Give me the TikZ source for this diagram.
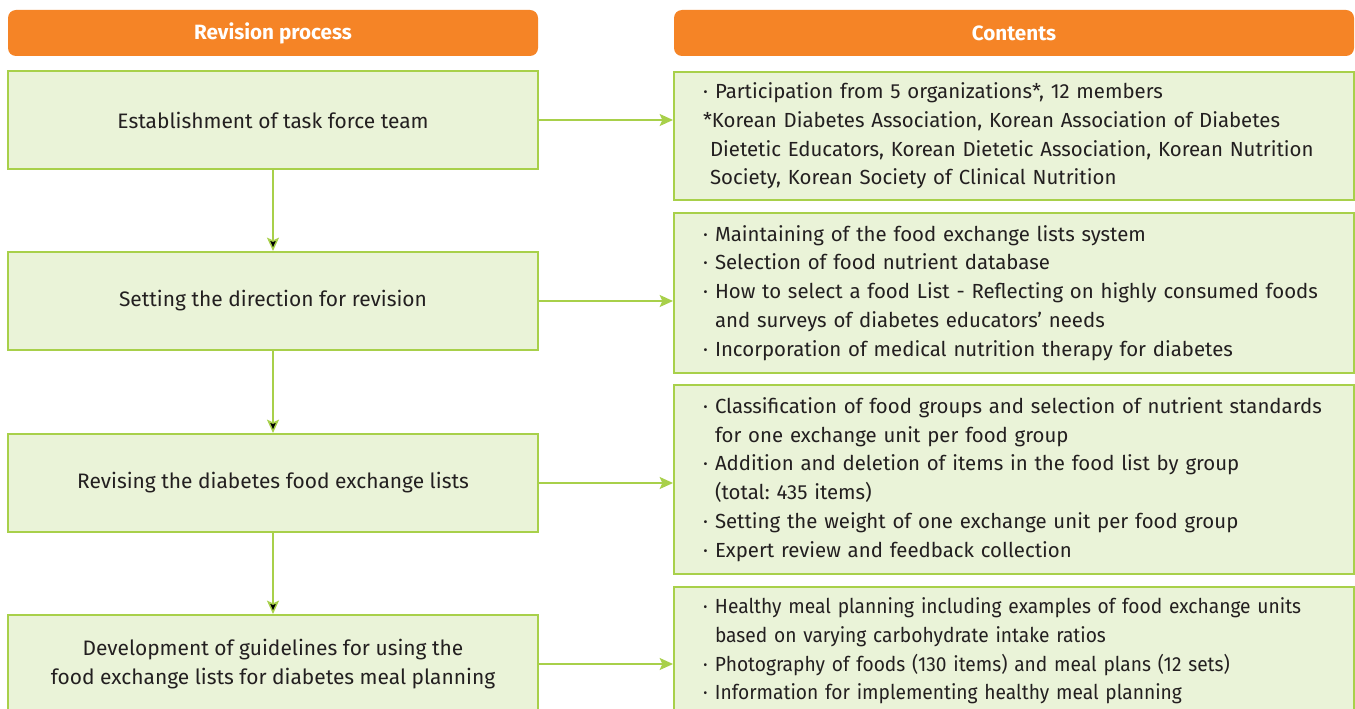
\documentclass[tikz,border=0pt]{standalone}
\usepackage{fontspec}
\setmainfont{Fira Sans}
\newfontfamily\narrowfont[FakeStretch=0.94]{Fira Sans}
\usetikzlibrary{arrows.meta}
\definecolor{hdrOrange}{RGB}{245,132,38}
\definecolor{boxGreen}{RGB}{234,243,216}
\definecolor{lineGreen}{RGB}{168,208,74}
\definecolor{txtGray}{RGB}{35,31,32}
\newcommand{\bul}{\makebox[9pt][l]{·}}
\newcommand{\ind}{\hspace*{5.25pt}}
\frenchspacing

\begin{document}
\begin{tikzpicture}[x=0.75pt, y=-0.75pt,
	hdr/.style={fill=hdrOrange, rounded corners=6pt, minimum height=34.5pt, text=white,
		font=\fontsize{15.5pt}{18pt}\selectfont\bfseries},
	procbox/.style={draw=lineGreen, fill=boxGreen, line width=1.5pt, minimum width=397.5pt,
		minimum height=73.5pt, align=center, text=txtGray,
		font=\fontsize{15.7pt}{21.75pt}\selectfont},
	itembox/.style={draw=lineGreen, fill=boxGreen, line width=1.5pt, inner xsep=21.75pt,
		text width=466.5pt, align=left, text=txtGray,
		font=\fontsize{15.3pt}{21.6pt}\selectfont},
	flow/.style={draw=lineGreen, line width=1.1pt, -{Stealth[length=10pt, width=9pt, inset=2pt]}}]
			\useasboundingbox (0,0) rectangle (1355,709);
			\clip (0,0) rectangle (1355,709);
			\fill[white] (0,0) rectangle (1355,709);

			% headers
			\draw (273,33) node[hdr, minimum width=397.5pt] (hl) {Revision process};
			\draw (1014,33) node[hdr, minimum width=510pt] (hr) {Contents};

			% revision steps
			\draw (273,120) node[procbox] (P1) {Establishment of task force team};
			\draw (273,301) node[procbox] (P2) {Setting the direction for revision};
			\draw (273,483) node[procbox] (P3) {Revising the diabetes food exchange lists};
			\draw (273,664) node[procbox] (P4) {Development of guidelines for using the\\food exchange lists for diabetes meal planning};

			% contents
			\draw (1014,136) node[itembox, minimum height=96pt] (C1) {%
				\bul Participation from 5 organizations*, 12 members\\
				{*}Korean Diabetes Association, Korean Association of Diabetes\\
				\ind Dietetic Educators, Korean Dietetic Association, Korean Nutrition\\
				\ind Society, Korean Society of Clinical Nutrition};
			\draw (1014,293) node[itembox, minimum height=119.25pt] (C2) {%
				\bul Maintaining of the food exchange lists system\\
				\bul Selection of food nutrient database\\
				\bul How to select a food List - Reflecting on highly consumed foods\\
				\hspace*{9pt}and surveys of diabetes educators' needs\\
				\bul Incorporation of medical nutrition therapy for diabetes};
			\draw (1014,479.5) node[itembox, minimum height=141.75pt] (C3) {%
				\bul Classification of food groups and selection of nutrient standards\\
				\hspace*{9pt}for one exchange unit per food group\\
				\bul Addition and deletion of items in the food list by group\\
				\hspace*{9pt}(total: 435 items)\\
				\bul Setting the weight of one exchange unit per food group\\
				\bul Expert review and feedback collection};
			\draw (1014,651) node[itembox, minimum height=96pt,
				font=\fontsize{15.3pt}{21.6pt}\narrowfont] (C4) {%
				\bul Healthy meal planning including examples of food exchange units\\
				\hspace*{9pt}based on varying carbohydrate intake ratios\\
				\bul Photography of foods (130 items) and meal plans (12 sets)\\
				\bul Information for implementing healthy meal planning};

			\path[flow]
			(P1) edge (P2)
			(P2) edge (P3)
			(P3) edge (P4)
			;
			\draw[flow] (P1.east) -- (P1.east -| C1.west);
			\draw[flow] (P2.east) -- (P2.east -| C2.west);
			\draw[flow] (P3.east) -- (P3.east -| C3.west);
			\draw[flow] (P4.east) -- (P4.east -| C4.west);
		\end{tikzpicture}
\end{document}
